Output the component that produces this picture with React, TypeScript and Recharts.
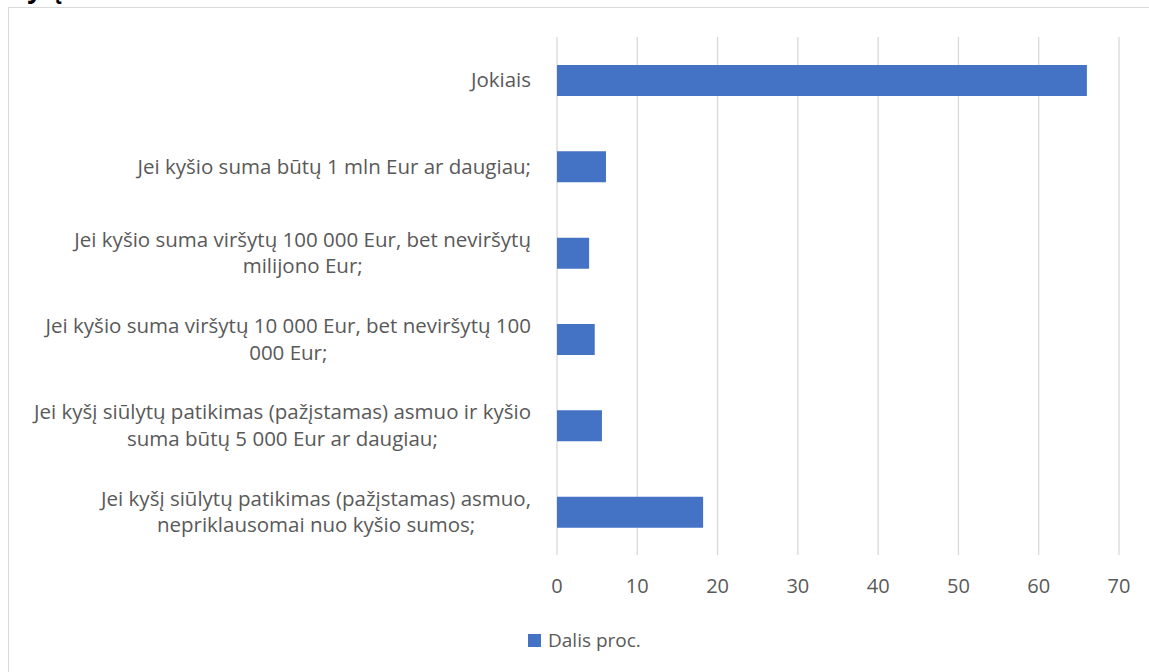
import { BarChart, Bar, XAxis, YAxis, CartesianGrid, Legend } from "recharts";

const CATEGORIES = [
  "Jokiais",
  "Jei kyšio suma būtų 1 mln Eur ar daugiau;",
  "Jei kyšio suma viršytų 100 000 Eur, bet neviršytų milijono Eur;",
  "Jei kyšio suma viršytų 10 000 Eur, bet neviršytų 100 000 Eur;",
  "Jei kyšį siūlytų patikimas (pažįstamas) asmuo ir kyšio suma būtų 5 000 Eur ar daugiau;",
  "Jei kyšį siūlytų patikimas (pažįstamas) asmuo, nepriklausomai nuo kyšio sumos;",
];
const VALUES = [66.0, 6.1, 4.0, 4.7, 5.6, 18.2];
const X_TICKS = [0, 10, 20, 30, 40, 50, 60, 70];
const SERIES_NAME = "Dalis proc.";
const TITLE = "Kyšį";

const FONT_FAMILY = '"Open Sans", "Noto Sans", sans-serif';
const LABEL_SIZE = 20.5;
const TICK_SIZE = 20;
const LEGEND_SIZE = 19;
const TEXT_COLOR = "#595959";
const BAR_COLOR = "#4472c4";
const GRID_COLOR = "#d9d9d9";

const data = CATEGORIES.map((name, i) => ({ name, value: VALUES[i] }));

let ctx: CanvasRenderingContext2D | null = null;
function measureText(t: string) {
  if (!ctx) ctx = document.createElement("canvas").getContext("2d");
  if (!ctx) return t.length * 10;
  ctx.font = `${LABEL_SIZE}px "Open Sans"`;
  return ctx.measureText(t).width;
}

// greedy word wrap, Excel-like
function wrapText(text: string, maxW: number) {
  const words = text.split(" ");
  const lines: string[] = [];
  let cur = "";
  for (const w of words) {
    const next = cur ? cur + " " + w : w;
    if (cur && measureText(next) > maxW) {
      lines.push(cur);
      cur = w;
    } else {
      cur = next;
    }
  }
  if (cur) lines.push(cur);
  return lines;
}

function CategoryTick({ x, y, payload }: any) {
  const lines = wrapText(String(payload.value), 515);
  const w = Math.max(...lines.map(measureText));
  const right = x - 18;
  const cx = right - w / 2;
  const lh = 26.5;
  const y0 = y - ((lines.length - 1) * lh) / 2;
  return (
    <text textAnchor="middle" fill={TEXT_COLOR} fontSize={LABEL_SIZE} fontFamily={FONT_FAMILY}>
      {lines.map((l, i) => (
        <tspan key={i} x={cx} y={y0 + i * lh} dy="0.35em">
          {l}
        </tspan>
      ))}
    </text>
  );
}

function ValueTick({ x, y, payload }: any) {
  return (
    <text x={x} y={y} dy={30} textAnchor="middle" fill={TEXT_COLOR} fontSize={TICK_SIZE} fontFamily={FONT_FAMILY}>
      {payload.value}
    </text>
  );
}

function LegendContent() {
  return (
    <div style={{ display: "flex", alignItems: "center", fontFamily: FONT_FAMILY, fontSize: LEGEND_SIZE, color: TEXT_COLOR, lineHeight: "26px" }}>
      <span style={{ width: 13, height: 13, background: BAR_COLOR, marginRight: 7, display: "inline-block" }} />
      <span>{SERIES_NAME}</span>
    </div>
  );
}

export default function App() {
  return (
    <div style={{ position: "absolute", left: 0, top: 0, width: 1149, height: 672, overflow: "hidden", background: "#fff" }}>
      <div
        style={{
          position: "absolute",
          left: 10,
          top: -30,
          fontFamily: FONT_FAMILY,
          fontWeight: 700,
          fontSize: 26,
          color: "#000",
        }}
      >
        {TITLE}
      </div>
      <div
        style={{
          position: "absolute",
          left: 8,
          top: 7,
          width: 1200,
          height: 700,
          borderLeft: `1px solid ${GRID_COLOR}`,
          borderTop: `1px solid ${GRID_COLOR}`,
        }}
      />
      <div style={{ position: "absolute", left: 0, top: 0 }}>
        <BarChart
          width={1149}
          height={672}
          data={data}
          layout="vertical"
          margin={{ top: 37, right: 30, bottom: 0, left: 0 }}
        >
          <CartesianGrid horizontal={false} stroke={GRID_COLOR} strokeWidth={1.3} />
          <XAxis
            type="number"
            domain={[0, 70]}
            ticks={X_TICKS}
            axisLine={false}
            tickLine={false}
            height={117}
            tick={<ValueTick />}
            interval={0}
          />
          <YAxis
            type="category"
            dataKey="name"
            width={557}
            axisLine={false}
            tickLine={false}
            tick={<CategoryTick />}
            interval={0}
          />
          <Legend
            layout="horizontal"
            verticalAlign="middle"
            align="center"
            content={<LegendContent />}
            wrapperStyle={{ top: 627, left: 528, width: "auto" }}
          />
          <Bar dataKey="value" name={SERIES_NAME} fill={BAR_COLOR} barSize={31} isAnimationActive={false} />
        </BarChart>
      </div>
    </div>
  );
}
